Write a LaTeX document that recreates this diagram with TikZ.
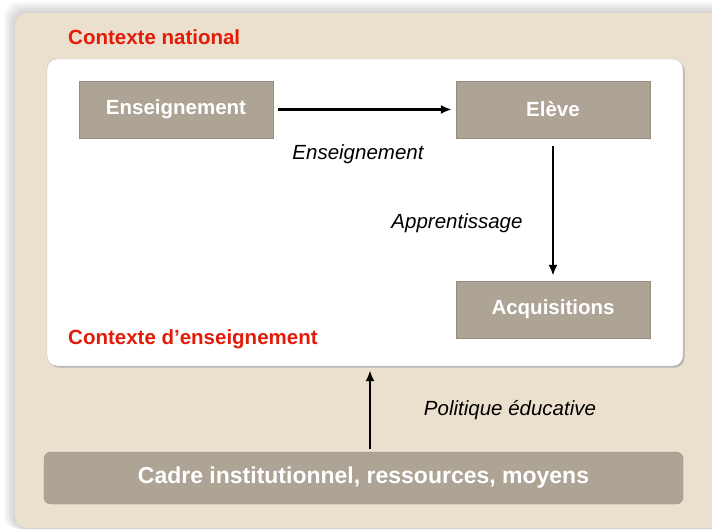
\documentclass[tikz,border=0pt]{standalone}
\usepackage{fontspec}
\setmainfont{Liberation Sans}
\usetikzlibrary{arrows.meta,positioning,calc}

\definecolor{beige}{RGB}{235,224,206}
\definecolor{boxgray}{RGB}{174,164,150}
\definecolor{boxline}{RGB}{150,141,128}
\definecolor{ctxred}{RGB}{226,28,8}

\begin{document}
\begin{tikzpicture}[
  x=1pt, y=-1pt,
  block/.style={rectangle, draw=boxline, fill=boxgray, text=white,
    font=\fontsize{20.5}{24}\selectfont\bfseries,
    minimum width=194pt, minimum height=57pt, inner sep=0pt},
  base/.style={block, rounded corners=7pt, minimum width=639pt,
    minimum height=52pt, font=\fontsize{23}{27}\selectfont\bfseries},
  ctxlabel/.style={text=ctxred, anchor=west, inner sep=0pt,
    font=\fontsize{20.5}{24}\selectfont\bfseries},
  flowlabel/.style={font=\fontsize{20.5}{24}\selectfont\itshape, inner sep=0pt},
  arr/.style={draw, line width=2.2pt, -{Latex[length=11pt,width=9pt]}}
]
  \useasboundingbox (0,0) rectangle (712,530);
  \clip (0,0) rectangle (712,530);

  % soft shadow and national context
  \foreach \s in {1,...,10}
    \fill[black, opacity=0.018, rounded corners=14pt]
      ($(16,14)+(-1.2*\s,-1.2*\s)$) rectangle (740,529);
  \fill[beige, rounded corners=12pt] (15,13) rectangle (740,528);

  % teaching context
  \fill[gray!60, rounded corners=10pt] (48.5,60.5) rectangle (684.5,367.5);
  \node[rectangle, draw=gray!45, fill=white, rounded corners=10pt,
    minimum width=636pt, minimum height=307pt] (ctx) at (365,212.5) {};

  \node[ctxlabel] (natl) at (68,37) {Contexte national};
  \node[ctxlabel] (teach) at (68,339) {Contexte d’enseignement};

  \node[block] (ens) at (176,109.5) {Enseignement};
  \node[block] (eleve) at (553,109.5) {Elève};
  \node[block] (acq) at (553,309.5) {Acquisitions};
  \node[base] (cadre) at (363.5,478) {Cadre institutionnel, ressources, moyens};

  \node[flowlabel] (lens) at (358,154) {Enseignement};
  \node[flowlabel] (lapp) at (457,223) {Apprentissage};
  \node[flowlabel] (lpol) at (510,410) {Politique éducative};

  \path[arr, shorten <=5pt, shorten >=4pt] (ens) -- (eleve);
  \path[arr, shorten <=8pt, shorten >=5pt] (eleve) -- (acq);
  \path[arr, shorten <=3pt, shorten >=4pt]
    ([xshift=6.5pt]cadre.north) -- ([xshift=6.5pt]cadre.north |- ctx.south);
\end{tikzpicture}
\end{document}
